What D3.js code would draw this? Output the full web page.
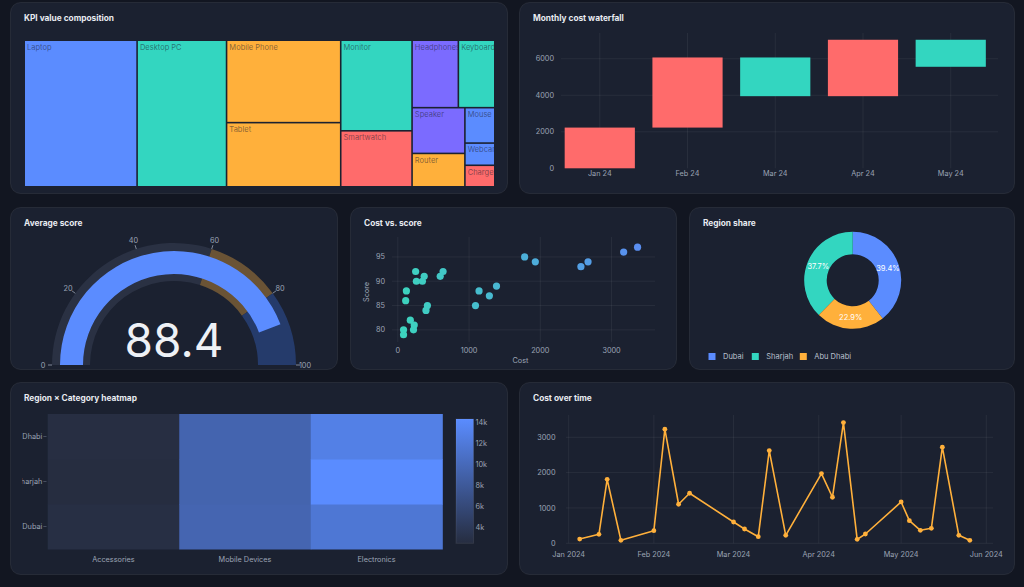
<!DOCTYPE html>
<html lang="en">
<head>
<meta charset="UTF-8">
<title>KPI dashboard</title>
<script src="https://d3js.org/d3.v7.min.js"></script>
<style>
  html, body { margin: 0; background: #121621; overflow: hidden; }
  svg { display: block; font-family: Inter, "Noto Sans", sans-serif; }
  .title { fill: #e8ebf1; font-size: 8.3px; font-weight: 700; }
  .tick-label { fill: #9ca4b5; font-size: 7.3px; }
  .grid { stroke: rgba(255,255,255,0.06); stroke-width: 1; }
</style>
</head>
<body>
<svg id="dash" width="1024" height="587"></svg>
<script>
// ---- data ----
const tileNames  = ['Laptop', 'Desktop PC', 'Mobile Phone', 'Tablet', 'Monitor', 'Smartwatch',
                    'Headphones', 'Keyboard', 'Speaker', 'Router', 'Mouse', 'Webcam', 'Charger'];
const tileValues = [15950, 12640, 9070, 7060, 6230, 3850, 3010, 2370, 2330, 1700, 1020, 640, 620];
const tileGroups = ['Computing', 'Desktop', 'Mobile', 'Mobile', 'Desktop', 'Wearables',
                    'Audio', 'Desktop', 'Audio', 'Mobile', 'Computing', 'Computing', 'Wearables'];

const months = ['Jan 24', 'Feb 24', 'Mar 24', 'Apr 24', 'May 24'];
const monthDeltas = [2230, 3840, -2120, 3090, -1480];

const scatterCost  = [80, 80, 220, 230, 175, 110, 120, 250, 260, 345, 370, 395, 415, 595, 635,
                      1090, 1140, 1285, 1385, 1780, 1930, 2570, 2670, 3170, 3365];
const scatterScore = [80, 79, 80, 81, 82, 86, 88, 92, 90, 90, 91, 84, 85, 91, 92,
                      85, 88, 87, 89, 95, 94, 93, 94, 96, 97];

const gaugeTicks = [0, 20, 40, 60, 80, 100];
const gaugeSteps = [[0, 60], [60, 80], [80, 100]];

const regions = ['Dubai', 'Sharjah', 'Abu Dhabi'];
const regionShare = [39.4, 37.7, 22.9];

const heatCategories = ['Accessories', 'Mobile Devices', 'Electronics'];
// rows: category, columns: region (Dubai, Sharjah, Abu Dhabi)
const heatValues = [
  [2700, 2470, 2600],
  [9500, 9300, 9400],
  [11700, 14350, 12800]
];
const colorbarTicks = [4000, 6000, 8000, 10000, 12000, 14000];

const costDates = ['2024-01-05', '2024-01-12', '2024-01-15', '2024-01-20', '2024-02-01', '2024-02-05',
                   '2024-02-10', '2024-02-14', '2024-03-01', '2024-03-05', '2024-03-10', '2024-03-14',
                   '2024-03-20', '2024-04-02', '2024-04-06', '2024-04-10', '2024-04-15', '2024-04-18',
                   '2024-05-01', '2024-05-04', '2024-05-08', '2024-05-12', '2024-05-16', '2024-05-22',
                   '2024-05-26'];
const costValues = [120, 255, 1810, 85, 357, 3230, 1105, 1416, 603, 405, 187, 2623,
                    227, 1972, 1303, 3416, 113, 263, 1170, 640, 368, 425, 2720, 227, 85];

// ---- palette ----
const BLUE = '#5b8cff', TEAL = '#33d6c0', ORANGE = '#ffb03b', RED = '#ff6b6b', PURPLE = '#7b6bff';

const svg = d3.select('#dash');
svg.append('rect').attr('width', 1024).attr('height', 587).attr('fill', '#121621');
const defs = svg.append('defs');

function panel(id, x, y, w, h, title) {
  defs.append('clipPath').attr('id', 'clip-' + id)
    .append('rect').attr('x', x).attr('y', y).attr('width', w).attr('height', h).attr('rx', 10);
  svg.append('rect')
    .attr('x', x + 0.5).attr('y', y + 0.5).attr('width', w - 1).attr('height', h - 1).attr('rx', 10)
    .attr('fill', '#1b2130').attr('stroke', 'rgba(255,255,255,0.07)');
  const g = svg.append('g').attr('clip-path', `url(#clip-${id})`);
  g.append('text').attr('class', 'title').attr('x', x + 14).attr('y', y + 19).text(title);
  return g;
}

// ---- treemap ----
{
  const g = panel('tree', 10, 2, 498, 192, 'KPI value composition');
  const color = d3.scaleOrdinal()
    .domain(['Computing', 'Desktop', 'Mobile', 'Wearables', 'Audio'])
    .range([BLUE, TEAL, ORANGE, RED, PURPLE]);
  const root = d3.hierarchy({ children: tileNames.map((n, i) => ({ name: n, value: tileValues[i], group: tileGroups[i] })) })
    .sum(d => d.value || 0)
    .sort((a, b) => b.value - a.value);
  d3.treemap().tile(d3.treemapSquarify.ratio(1)).size([469, 145]).paddingInner(1.6)(root);
  const tg = g.append('g').attr('transform', 'translate(25,41)');
  const leaf = tg.selectAll('g').data(root.leaves()).join('g')
    .attr('transform', d => `translate(${d.x0},${d.y0})`);
  leaf.append('clipPath').attr('id', (d, i) => 'tile-' + i)
    .append('rect').attr('width', d => d.x1 - d.x0).attr('height', d => d.y1 - d.y0);
  leaf.append('rect')
    .attr('width', d => d.x1 - d.x0).attr('height', d => d.y1 - d.y0)
    .attr('fill', d => color(d.data.group));
  leaf.append('text')
    .attr('clip-path', (d, i) => `url(#tile-${i})`)
    .attr('x', 2).attr('y', 8.5)
    .attr('font-size', 7.5).attr('fill', 'rgba(27,33,48,0.55)')
    .text(d => d.data.name);
}

// ---- waterfall ----
{
  const g = panel('wf', 519, 2, 496, 192, 'Monthly cost waterfall');
  let run = 0;
  const steps = months.map((m, i) => {
    const start = run; run += monthDeltas[i];
    return { month: m, start, end: run, delta: monthDeltas[i] };
  });
  const x = d3.scaleBand().domain(months).range([555.9, 994.6]).paddingInner(0.2).paddingOuter(0.1);
  const y = d3.scaleLinear().domain([0, 7410]).range([168.3, 33]);
  const yTicks = [0, 2000, 4000, 6000];
  g.selectAll('.vg').data(months).join('line').attr('class', 'grid')
    .attr('x1', d => x(d) + x.bandwidth() / 2).attr('x2', d => x(d) + x.bandwidth() / 2)
    .attr('y1', y.range()[1]).attr('y2', y.range()[0]);
  g.selectAll('.hg').data(yTicks.slice(1)).join('line').attr('class', 'grid')
    .attr('x1', 561).attr('x2', 998).attr('y1', d => y(d)).attr('y2', d => y(d));
  g.selectAll('.bar').data(steps).join('rect')
    .attr('x', d => x(d.month)).attr('width', x.bandwidth())
    .attr('y', d => y(Math.max(d.start, d.end)))
    .attr('height', d => Math.abs(y(d.start) - y(d.end)))
    .attr('fill', d => d.delta >= 0 ? RED : TEAL);
  g.selectAll('.yl').data(yTicks).join('text').attr('class', 'tick-label')
    .attr('x', 554).attr('y', d => y(d)).attr('dy', '0.35em').attr('text-anchor', 'end').text(d => d);
  g.selectAll('.xl').data(months).join('text').attr('class', 'tick-label')
    .attr('x', d => x(d) + x.bandwidth() / 2).attr('y', 176).attr('text-anchor', 'middle').text(d => d);
}

// ---- gauge ----
{
  const g = panel('gauge', 10, 207, 328, 163, 'Average score');
  const value = d3.mean(scatterScore);
  const cx = 174, cy = 365;
  const ang = d3.scaleLinear().domain([0, 100]).range([-Math.PI / 2, Math.PI / 2]);
  const gg = g.append('g').attr('transform', `translate(${cx},${cy})`);
  const band = d3.arc().innerRadius(84).outerRadius(122);
  const stepColors = ['#2a3143', '#6a5335', '#253b6b'];
  gg.selectAll('.step').data(gaugeSteps).join('path')
    .attr('d', d => band({ startAngle: ang(d[0]), endAngle: ang(d[1]) }))
    .attr('fill', (d, i) => stepColors[i]);
  gg.append('path')
    .attr('d', d3.arc().innerRadius(91).outerRadius(114)({ startAngle: ang(0), endAngle: ang(value) }))
    .attr('fill', BLUE);
  gg.selectAll('.tk').data(gaugeTicks).join('line')
    .attr('x1', d => 122 * Math.sin(ang(d))).attr('y1', d => -122 * Math.cos(ang(d)))
    .attr('x2', d => 126 * Math.sin(ang(d))).attr('y2', d => -126 * Math.cos(ang(d)))
    .attr('stroke', '#9ca4b5').attr('stroke-width', 0.8);
  gg.selectAll('.tl').data(gaugeTicks).join('text').attr('class', 'tick-label')
    .attr('x', d => 131 * Math.sin(ang(d))).attr('y', d => -131 * Math.cos(ang(d)))
    .attr('dy', '0.35em').attr('text-anchor', 'middle').text(d => d);
  g.append('text').attr('x', cx).attr('y', 357).attr('text-anchor', 'middle')
    .attr('font-size', 46).attr('fill', '#eef1f6').text(d3.format('.1f')(value));
}

// ---- scatter ----
{
  const g = panel('scatter', 350, 207, 327, 163, 'Cost vs. score');
  const x = d3.scaleLinear().domain([-110, 3610]).range([390, 655]);
  const y = d3.scaleLinear().domain([77.3, 99.3]).range([343, 236]);
  const xTicks = [0, 1000, 2000, 3000], yTicks = [80, 85, 90, 95];
  g.selectAll('.vg').data(xTicks).join('line').attr('class', 'grid')
    .attr('x1', d => x(d)).attr('x2', d => x(d)).attr('y1', 237).attr('y2', 342);
  g.selectAll('.hg').data(yTicks).join('line').attr('class', 'grid')
    .attr('x1', 392).attr('x2', 655).attr('y1', d => y(d)).attr('y2', d => y(d));
  const c = d3.scaleLinear().domain(d3.extent(scatterCost)).range(['#3dd3be', '#5a8ef0']);
  g.selectAll('circle').data(scatterCost).join('circle')
    .attr('cx', d => x(d)).attr('cy', (d, i) => y(scatterScore[i])).attr('r', 3.6)
    .attr('fill', d => c(d));
  g.selectAll('.yl').data(yTicks).join('text').attr('class', 'tick-label')
    .attr('x', 385).attr('y', d => y(d)).attr('dy', '0.35em').attr('text-anchor', 'end').text(d => d);
  g.selectAll('.xl').data(xTicks).join('text').attr('class', 'tick-label')
    .attr('x', d => x(d)).attr('y', 353).attr('text-anchor', 'middle').text(d => d);
  g.append('text').attr('class', 'tick-label').attr('font-size', 8.5).attr('x', 520.5).attr('y', 363)
    .attr('text-anchor', 'middle').text('Cost');
  g.append('text').attr('class', 'tick-label').attr('font-size', 8.5)
    .attr('transform', 'translate(368.5,292) rotate(-90)').attr('text-anchor', 'middle').text('Score');
}

// ---- donut ----
{
  const g = panel('donut', 689, 207, 326, 163, 'Region share');
  const color = d3.scaleOrdinal().domain(regions).range([BLUE, TEAL, ORANGE]);
  const sliceOrder = ['Dubai', 'Abu Dhabi', 'Sharjah'];
  const pie = d3.pie().value(d => d.share)
    .sort((a, b) => sliceOrder.indexOf(a.region) - sliceOrder.indexOf(b.region));
  const arcs = pie(regions.map((r, i) => ({ region: r, share: regionShare[i] })));
  const arc = d3.arc().innerRadius(26).outerRadius(48.5);
  const dg = g.append('g').attr('transform', 'translate(852.7,280.3)');
  dg.selectAll('path').data(arcs).join('path').attr('d', arc).attr('fill', d => color(d.data.region));
  const lab = d3.arc().innerRadius(37.25).outerRadius(37.25);
  dg.selectAll('text').data(arcs).join('text')
    .attr('transform', d => `translate(${lab.centroid(d)})`)
    .attr('dy', '0.35em').attr('text-anchor', 'middle')
    .attr('font-size', 7.5).attr('fill', '#ffffff').text(d => d.data.share.toFixed(1) + '%');
  const leg = g.selectAll('.leg').data(regions).join('g')
    .attr('transform', (d, i) => `translate(${[708.5, 751.8, 799.8][i]},353)`);
  leg.append('rect').attr('width', 7).attr('height', 7).attr('fill', d => color(d));
  leg.append('text').attr('x', 14.5).attr('y', 3.5).attr('dy', '0.35em')
    .attr('font-size', 7.5).attr('fill', '#b9c0cd').text(d => d);
}

// ---- heatmap ----
{
  const g = panel('heat', 10, 382, 498, 193, 'Region \u00d7 Category heatmap');
  defs.append('clipPath').attr('id', 'clip-heat-inner')
    .append('rect').attr('x', 22).attr('y', 382).attr('width', 486).attr('height', 193);
  const hg = g.append('g').attr('clip-path', 'url(#clip-heat-inner)');
  const x = d3.scaleBand().domain(heatCategories).range([47.7, 442.3]);
  const y = d3.scaleBand().domain(regions).range([549, 414]);
  const all = heatValues.flat();
  const ext = d3.extent(all);
  const color = d3.scaleLinear().domain(ext).range(['#262d40', '#5a8cff']);
  const cells = [];
  heatCategories.forEach((c, i) => regions.forEach((r, j) => cells.push({ c, r, v: heatValues[i][j] })));
  hg.selectAll('rect.cell').data(cells).join('rect').attr('class', 'cell')
    .attr('x', d => x(d.c)).attr('y', d => y(d.r))
    .attr('width', x.bandwidth() + 0.5).attr('height', y.bandwidth() + 0.5)
    .attr('fill', d => color(d.v));
  hg.selectAll('.yl').data(regions).join('text').attr('class', 'tick-label')
    .attr('font-size', 7.6)
    .attr('x', 42.3).attr('y', d => y(d) + y.bandwidth() / 2).attr('dy', '0.35em')
    .attr('text-anchor', 'end').text(d => d);
  hg.selectAll('.yt').data(regions).join('line')
    .attr('x1', 43.3).attr('x2', 46.5)
    .attr('y1', d => y(d) + y.bandwidth() / 2).attr('y2', d => y(d) + y.bandwidth() / 2)
    .attr('stroke', '#5a6275').attr('stroke-width', 0.7);
  hg.selectAll('.xl').data(heatCategories).join('text').attr('class', 'tick-label')
    .attr('x', d => x(d) + x.bandwidth() / 2).attr('y', 562).attr('text-anchor', 'middle').text(d => d);
  // colorbar
  const grad = defs.append('linearGradient').attr('id', 'heat-grad')
    .attr('x1', 0).attr('y1', 1).attr('x2', 0).attr('y2', 0);
  grad.append('stop').attr('offset', 0).attr('stop-color', color(ext[0]));
  grad.append('stop').attr('offset', 1).attr('stop-color', color(ext[1]));
  const cb = d3.scaleLinear().domain(ext).range([543.3, 419]);
  hg.append('rect').attr('x', 456).attr('y', 419).attr('width', 17.5).attr('height', 124.3)
    .attr('fill', 'url(#heat-grad)').attr('stroke', 'rgba(255,255,255,0.08)');
  hg.selectAll('.cl').data(colorbarTicks).join('text').attr('class', 'tick-label')
    .attr('x', 475.5).attr('y', d => cb(d)).attr('dy', '0.35em').text(d => d / 1000 + 'k');
}

// ---- cost over time ----
{
  const g = panel('line', 519, 382, 496, 193, 'Cost over time');
  const parse = d3.utcParse('%Y-%m-%d');
  const pts = costDates.map((d, i) => ({ date: parse(d), value: costValues[i] }));
  const x = d3.scaleUtc().domain([Date.UTC(2024, 0, 1), Date.UTC(2024, 5, 1)]).range([568.7, 986.3]);
  const y = d3.scaleLinear().domain([0, 3000]).range([543.3, 437.3]);
  const xTicks = x.ticks(d3.utcMonth.every(1));
  const yTicks = [0, 1000, 2000, 3000];
  g.selectAll('.vg').data(xTicks).join('line').attr('class', 'grid')
    .attr('x1', d => x(d)).attr('x2', d => x(d)).attr('y1', 415).attr('y2', 543.3);
  g.selectAll('.hg').data(yTicks).join('line').attr('class', 'grid')
    .attr('x1', 566).attr('x2', 993).attr('y1', d => y(d)).attr('y2', d => y(d));
  g.append('path').datum(pts)
    .attr('d', d3.line().x(d => x(d.date)).y(d => y(d.value)))
    .attr('fill', 'none').attr('stroke', ORANGE).attr('stroke-width', 1.6).attr('stroke-linejoin', 'round');
  g.selectAll('circle').data(pts).join('circle')
    .attr('cx', d => x(d.date)).attr('cy', d => y(d.value)).attr('r', 2.4).attr('fill', ORANGE);
  g.selectAll('.yl').data(yTicks).join('text').attr('class', 'tick-label')
    .attr('x', 555.5).attr('y', d => y(d)).attr('dy', '0.35em').attr('text-anchor', 'end').text(d => d);
  g.selectAll('.xl').data(xTicks).join('text').attr('class', 'tick-label')
    .attr('x', d => x(d)).attr('y', 557).attr('text-anchor', 'middle').text(d3.utcFormat('%b %Y'));
}
</script>
</body>
</html>
